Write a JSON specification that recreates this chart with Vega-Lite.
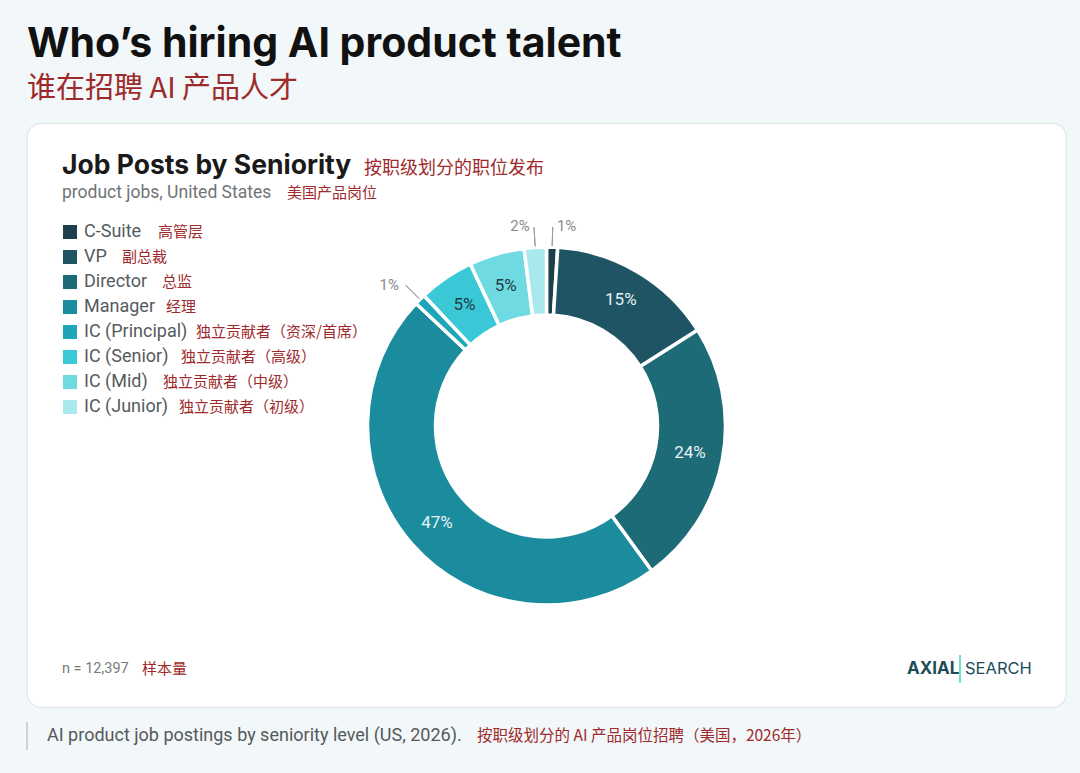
{
  "$schema": "https://vega.github.io/schema/vega-lite/v6.json",
  "width": 1039,
  "height": 584,
  "autosize": {"type": "none"},
  "padding": {"left": 27, "top": 123, "right": 14, "bottom": 66},
  "background": "#f2f7f9",
  "view": {"fill": "#ffffff", "stroke": "#e1e5e8", "strokeWidth": 1.2, "cornerRadius": 14},
  "title": {
    "text": "Who’s hiring AI product talent",
    "subtitle": "谁在招聘 AI 产品人才",
    "anchor": "start",
    "frame": "group",
    "font": "Inter",
    "fontSize": 41,
    "fontWeight": 700,
    "color": "#111111",
    "subtitleFont": "Noto Sans CJK SC",
    "subtitleFontSize": 29,
    "subtitleColor": "#9e2a2b",
    "subtitlePadding": 9,
    "offset": 18
  },
  "datasets": {
    "levels": [
      {"idx": 0, "level": "C-Suite", "zh": "高管层", "share": 0.01},
      {"idx": 1, "level": "VP", "zh": "副总裁", "share": 0.15},
      {"idx": 2, "level": "Director", "zh": "总监", "share": 0.24},
      {"idx": 3, "level": "Manager", "zh": "经理", "share": 0.47},
      {"idx": 4, "level": "IC (Principal)", "zh": "独立贡献者（资深/首席）", "share": 0.01},
      {"idx": 5, "level": "IC (Senior)", "zh": "独立贡献者（高级）", "share": 0.05},
      {"idx": 6, "level": "IC (Mid)", "zh": "独立贡献者（中级）", "share": 0.05},
      {"idx": 7, "level": "IC (Junior)", "zh": "独立贡献者（初级）", "share": 0.02}
    ]
  },
  "layer": [
    {
      "data": {"name": "levels"},
      "mark": {"type": "arc", "innerRadius": 111, "outerRadius": 179, "stroke": "#ffffff", "strokeWidth": 3.5, "yOffset": 11},
      "encoding": {
        "theta": {"field": "share", "type": "quantitative", "stack": true},
        "order": {"field": "idx", "type": "quantitative"},
        "color": {
          "field": "level", "type": "nominal",
          "scale": {
            "domain": ["C-Suite", "VP", "Director", "Manager", "IC (Principal)", "IC (Senior)", "IC (Mid)", "IC (Junior)"],
            "range": ["#1b3f4b", "#1e5464", "#1c6b77", "#1b8c9e", "#1ea5b7", "#3bc8d6", "#6fdae2", "#a9e9ee"]
          },
          "legend": null
        }
      }
    },
    {
      "data": {"name": "levels"},
      "mark": {"type": "arc", "innerRadius": 180, "outerRadius": 199, "padAngle": 1, "fill": "#ffffff", "fillOpacity": 0, "stroke": "#9a9a9a", "strokeWidth": 1, "yOffset": 11},
      "encoding": {
        "theta": {"field": "share", "type": "quantitative", "stack": true},
        "order": {"field": "idx", "type": "quantitative"},
        "strokeOpacity": {"condition": {"test": "datum.share < 0.05", "value": 1}, "value": 0}
      }
    },
    {
      "data": {"name": "levels"},
      "mark": {"type": "text", "radius": 146, "yOffset": 11, "font": "Roboto", "fontSize": 17, "baseline": "middle"},
      "encoding": {
        "theta": {"field": "share", "type": "quantitative", "stack": true},
        "order": {"field": "idx", "type": "quantitative"},
        "text": {"condition": {"test": "datum.share < 0.05", "value": ""}, "field": "share", "type": "quantitative", "format": ".0%"},
        "color": {"condition": {"test": "datum.share >= 0.1", "value": "#e6f2f4"}, "value": "#1e3d47"}
      }
    },
    {
      "data": {"name": "levels"},
      "mark": {"type": "text", "radius": 203, "yOffset": 11, "align": "right", "dx": -4, "dy": 3, "font": "Roboto", "fontSize": 15, "baseline": "middle", "color": "#8a8a8a"},
      "encoding": {
        "theta": {"field": "share", "type": "quantitative", "stack": true},
        "order": {"field": "idx", "type": "quantitative"},
        "text": {"condition": {"test": "datum.share >= 0.05 || datum.idx < 4", "value": ""}, "field": "share", "type": "quantitative", "format": ".0%"}
      }
    },
    {
      "data": {"name": "levels"},
      "mark": {"type": "text", "radius": 203, "yOffset": 11, "align": "left", "dx": 4, "dy": 3, "font": "Roboto", "fontSize": 15, "baseline": "middle", "color": "#8a8a8a"},
      "encoding": {
        "theta": {"field": "share", "type": "quantitative", "stack": true},
        "order": {"field": "idx", "type": "quantitative"},
        "text": {"condition": {"test": "datum.share >= 0.05 || datum.idx >= 4", "value": ""}, "field": "share", "type": "quantitative", "format": ".0%"}
      }
    },
    {
      "data": {"name": "levels"},
      "mark": {"type": "point", "shape": "square", "filled": true, "size": 196, "opacity": 1},
      "encoding": {
        "x": {"value": 43},
        "y": {"field": "level", "type": "ordinal", "scale": {"domain": ["C-Suite", "VP", "Director", "Manager", "IC (Principal)", "IC (Senior)", "IC (Mid)", "IC (Junior)"], "range": [109, 284], "padding": 0}, "axis": null},
        "color": {"field": "level", "type": "nominal", "legend": null}
      }
    },
    {
      "data": {"name": "levels"},
      "mark": {"type": "text", "align": "left", "baseline": "middle", "font": "Roboto", "fontSize": 18, "color": "#555b5e"},
      "encoding": {
        "x": {"value": 57},
        "y": {"field": "level", "type": "ordinal", "axis": null},
        "text": {"field": "level"}
      }
    },
    {
      "data": {"name": "levels"},
      "transform": [{"filter": "datum.idx == 0"}],
      "mark": {"type": "text", "align": "left", "baseline": "middle", "font": "Noto Sans CJK SC", "fontSize": 15, "color": "#9e2a2b"},
      "encoding": {"x": {"value": 131}, "y": {"field": "level", "type": "ordinal", "axis": null}, "text": {"field": "zh"}}
    },
    {
      "data": {"name": "levels"},
      "transform": [{"filter": "datum.idx == 1"}],
      "mark": {"type": "text", "align": "left", "baseline": "middle", "font": "Noto Sans CJK SC", "fontSize": 15, "color": "#9e2a2b"},
      "encoding": {"x": {"value": 95}, "y": {"field": "level", "type": "ordinal", "axis": null}, "text": {"field": "zh"}}
    },
    {
      "data": {"name": "levels"},
      "transform": [{"filter": "datum.idx == 2"}],
      "mark": {"type": "text", "align": "left", "baseline": "middle", "font": "Noto Sans CJK SC", "fontSize": 15, "color": "#9e2a2b"},
      "encoding": {"x": {"value": 135}, "y": {"field": "level", "type": "ordinal", "axis": null}, "text": {"field": "zh"}}
    },
    {
      "data": {"name": "levels"},
      "transform": [{"filter": "datum.idx == 3"}],
      "mark": {"type": "text", "align": "left", "baseline": "middle", "font": "Noto Sans CJK SC", "fontSize": 15, "color": "#9e2a2b"},
      "encoding": {"x": {"value": 139}, "y": {"field": "level", "type": "ordinal", "axis": null}, "text": {"field": "zh"}}
    },
    {
      "data": {"name": "levels"},
      "transform": [{"filter": "datum.idx == 4"}],
      "mark": {"type": "text", "align": "left", "baseline": "middle", "font": "Noto Sans CJK SC", "fontSize": 15, "color": "#9e2a2b"},
      "encoding": {"x": {"value": 169}, "y": {"field": "level", "type": "ordinal", "axis": null}, "text": {"field": "zh"}}
    },
    {
      "data": {"name": "levels"},
      "transform": [{"filter": "datum.idx == 5"}],
      "mark": {"type": "text", "align": "left", "baseline": "middle", "font": "Noto Sans CJK SC", "fontSize": 15, "color": "#9e2a2b"},
      "encoding": {"x": {"value": 154}, "y": {"field": "level", "type": "ordinal", "axis": null}, "text": {"field": "zh"}}
    },
    {
      "data": {"name": "levels"},
      "transform": [{"filter": "datum.idx == 6"}],
      "mark": {"type": "text", "align": "left", "baseline": "middle", "font": "Noto Sans CJK SC", "fontSize": 15, "color": "#9e2a2b"},
      "encoding": {"x": {"value": 136}, "y": {"field": "level", "type": "ordinal", "axis": null}, "text": {"field": "zh"}}
    },
    {
      "data": {"name": "levels"},
      "transform": [{"filter": "datum.idx == 7"}],
      "mark": {"type": "text", "align": "left", "baseline": "middle", "font": "Noto Sans CJK SC", "fontSize": 15, "color": "#9e2a2b"},
      "encoding": {"x": {"value": 152}, "y": {"field": "level", "type": "ordinal", "axis": null}, "text": {"field": "zh"}}
    },
    {
      "data": {"values": [{"t": "Job Posts by Seniority"}]},
      "mark": {"type": "text", "align": "left", "baseline": "alphabetic", "font": "Inter", "fontWeight": 700, "fontSize": 26.5, "color": "#1a1a1a"},
      "encoding": {"x": {"value": 35}, "y": {"value": 51}, "text": {"field": "t"}}
    },
    {
      "data": {"values": [{"t": "按职级划分的职位发布"}]},
      "mark": {"type": "text", "align": "left", "baseline": "alphabetic", "font": "Noto Sans CJK SC", "fontSize": 18, "color": "#9e2a2b"},
      "encoding": {"x": {"value": 337}, "y": {"value": 51}, "text": {"field": "t"}}
    },
    {
      "data": {"values": [{"t": "product jobs, United States"}]},
      "mark": {"type": "text", "align": "left", "baseline": "alphabetic", "font": "Roboto", "fontSize": 17.5, "color": "#707476"},
      "encoding": {"x": {"value": 35}, "y": {"value": 75}, "text": {"field": "t"}}
    },
    {
      "data": {"values": [{"t": "美国产品岗位"}]},
      "mark": {"type": "text", "align": "left", "baseline": "alphabetic", "font": "Noto Sans CJK SC", "fontSize": 15, "color": "#9e2a2b"},
      "encoding": {"x": {"value": 260}, "y": {"value": 75}, "text": {"field": "t"}}
    },
    {
      "data": {"values": [{"t": "n = 12,397"}]},
      "mark": {"type": "text", "align": "left", "baseline": "middle", "font": "Roboto", "fontSize": 14.5, "color": "#777b7d"},
      "encoding": {"x": {"value": 35}, "y": {"value": 546}, "text": {"field": "t"}}
    },
    {
      "data": {"values": [{"t": "样本量"}]},
      "mark": {"type": "text", "align": "left", "baseline": "middle", "font": "Noto Sans CJK SC", "fontSize": 15, "color": "#9e2a2b"},
      "encoding": {"x": {"value": 115}, "y": {"value": 546}, "text": {"field": "t"}}
    },
    {
      "data": {"values": [{"t": "AXIAL"}]},
      "mark": {"type": "text", "align": "left", "baseline": "middle", "font": "Inter", "fontWeight": 700, "fontSize": 17, "color": "#1d4d57"},
      "encoding": {"x": {"value": 880}, "y": {"value": 546}, "text": {"field": "t"}}
    },
    {
      "data": {"values": [{}]},
      "mark": {"type": "rule", "color": "#3dd9b5", "strokeWidth": 1.5},
      "encoding": {"x": {"value": 933}, "y": {"value": 532}, "y2": {"value": 560}}
    },
    {
      "data": {"values": [{"t": "SEARCH"}]},
      "mark": {"type": "text", "align": "left", "baseline": "middle", "font": "Inter", "fontWeight": 400, "fontSize": 16.5, "color": "#1d4d57"},
      "encoding": {"x": {"value": 938}, "y": {"value": 546}, "text": {"field": "t"}}
    },
    {
      "data": {"values": [{}]},
      "mark": {"type": "rule", "color": "#cdd3d7", "strokeWidth": 2},
      "encoding": {"x": {"value": 0}, "y": {"value": 599}, "y2": {"value": 627}}
    },
    {
      "data": {"values": [{"t": "AI product job postings by seniority level (US, 2026)."}]},
      "mark": {"type": "text", "align": "left", "baseline": "middle", "font": "Roboto", "fontSize": 18, "color": "#55595c"},
      "encoding": {"x": {"value": 20}, "y": {"value": 613}, "text": {"field": "t"}}
    },
    {
      "data": {"values": [{"t": "按职级划分的 AI 产品岗位招聘（美国，2026年）"}]},
      "mark": {"type": "text", "align": "left", "baseline": "middle", "font": "Noto Sans CJK SC", "fontSize": 15.5, "color": "#9e2a2b"},
      "encoding": {"x": {"value": 450}, "y": {"value": 613}, "text": {"field": "t"}}
    }
  ]
}
